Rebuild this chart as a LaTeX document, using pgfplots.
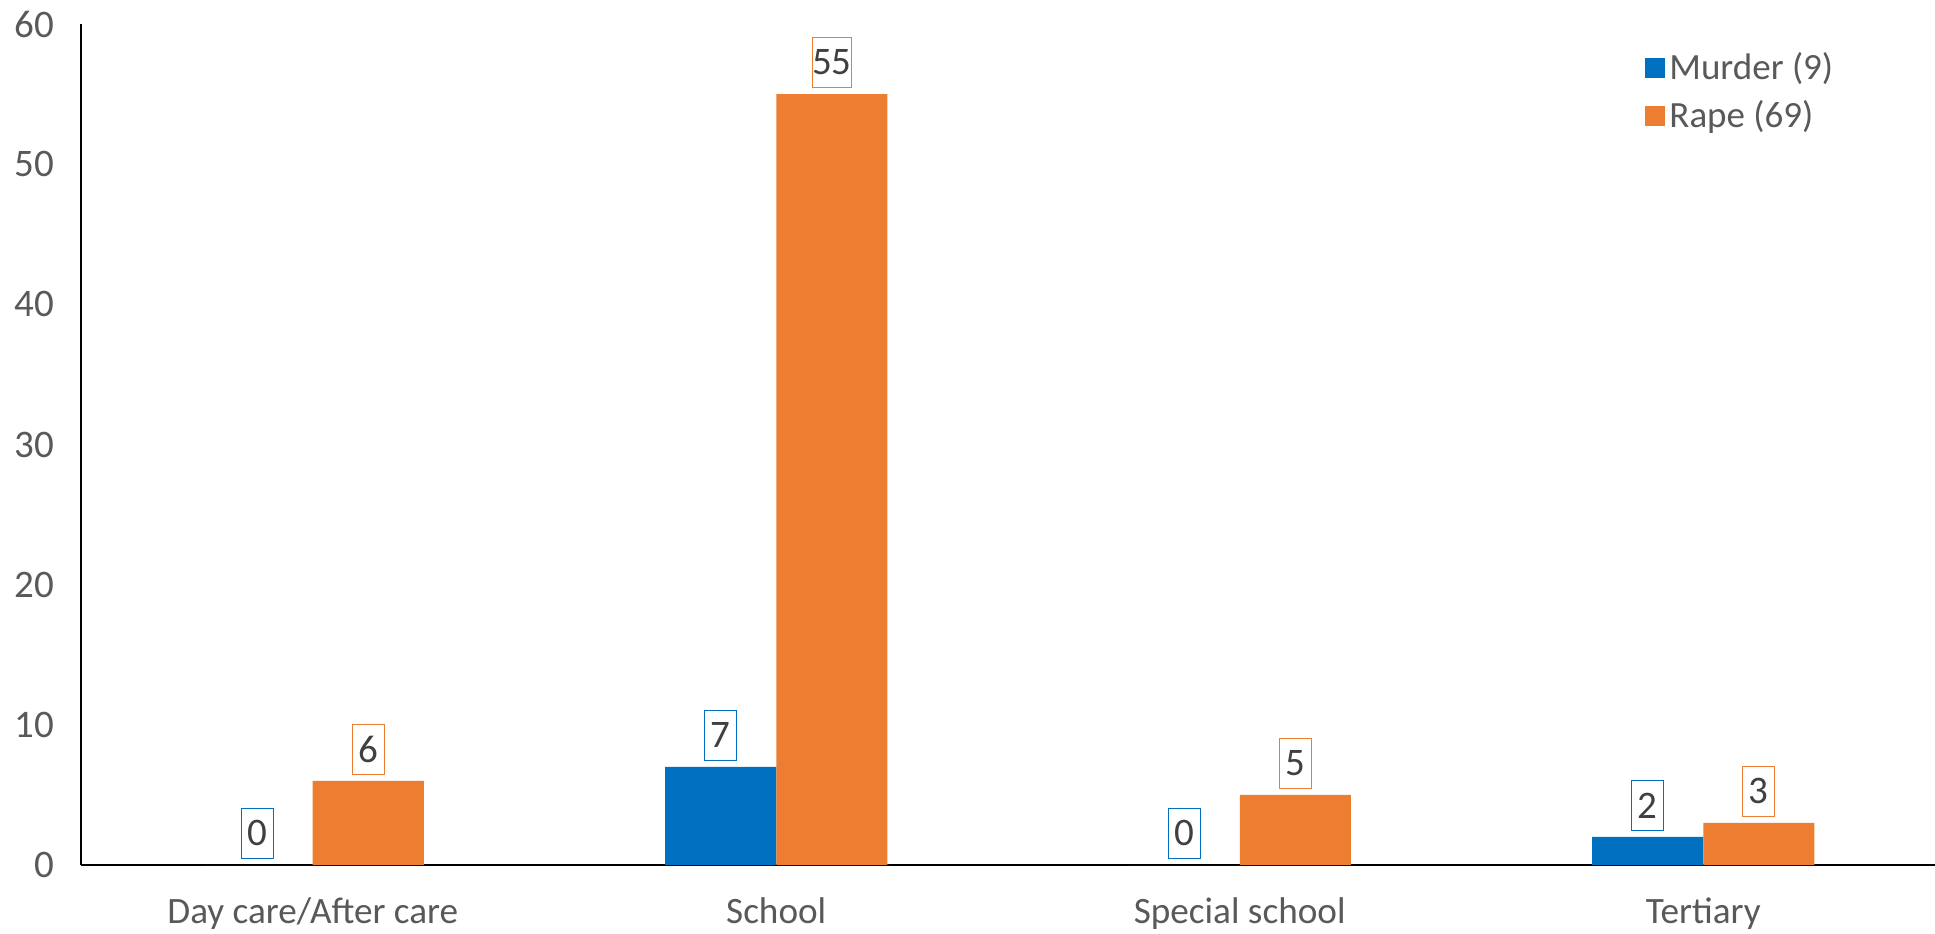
\documentclass[border=0pt]{standalone}
\usepackage{fontspec}
\setmainfont{Carlito}
\usepackage{pgfplots}
\pgfplotsset{compat=1.18}
\definecolor{cblue}{HTML}{0070C0}
\definecolor{corange}{HTML}{ED7D31}
\definecolor{tgray}{HTML}{595959}
\definecolor{lgray}{HTML}{404040}
\begin{document}
\begin{tikzpicture}
\useasboundingbox (-40.5pt,-34pt) rectangle (927pt,432.5pt);
\begin{axis}[
 at={(0,0)}, anchor=south west,
 scale only axis, width=927pt, height=420.5pt,
 xmin=-0.5, xmax=3.5, ymin=0, ymax=60,
 ybar=0pt, bar width=0.24,
 axis x line*=bottom, axis y line*=left,
 axis line style={black, line width=0.8pt, -},
 xtick={0,1,2,3}, xticklabels={Day care/After care, School, Special school, Tertiary},
 ytick={0,10,...,60},
 major tick length=0pt,
 tick style={draw=none},
 /pgf/number format/assume math mode=true,
 ticklabel style={font=\fontsize{19.5}{23}\selectfont, text=tgray},
 xticklabel style={font=\fontsize{18.6}{22}\selectfont, yshift=-13pt},
 yticklabel style={xshift=-10pt},
 nodes near coords,
 every node near coord/.append style={font=\fontsize{19.5}{23}\selectfont, text=lgray, fill=white, line width=0.6pt, inner sep=0pt, minimum width=16pt, minimum height=25pt, anchor=south, yshift=3pt},
 legend style={at={(0.8436,0.971)}, anchor=north west, draw=none, fill=none, font=\fontsize{18.5}{22}\selectfont, text=tgray, row sep=5pt, inner sep=0pt, nodes={xshift=1.5pt}},
 legend cell align=left,
 legend image code/.code={\fill[#1] (0pt,-5pt) rectangle (10pt,5pt);},
]
\addplot[fill=cblue, draw=none, every node near coord/.append style={draw=cblue}] coordinates {(0,0) (1,7) (2,0) (3,2)};
\addplot[fill=corange, draw=none, every node near coord/.append style={draw=corange}] coordinates {(0,6) (1,55) (2,5) (3,3)};
\legend{Murder (9), Rape (69)}
\end{axis}
\end{tikzpicture}
\end{document}
